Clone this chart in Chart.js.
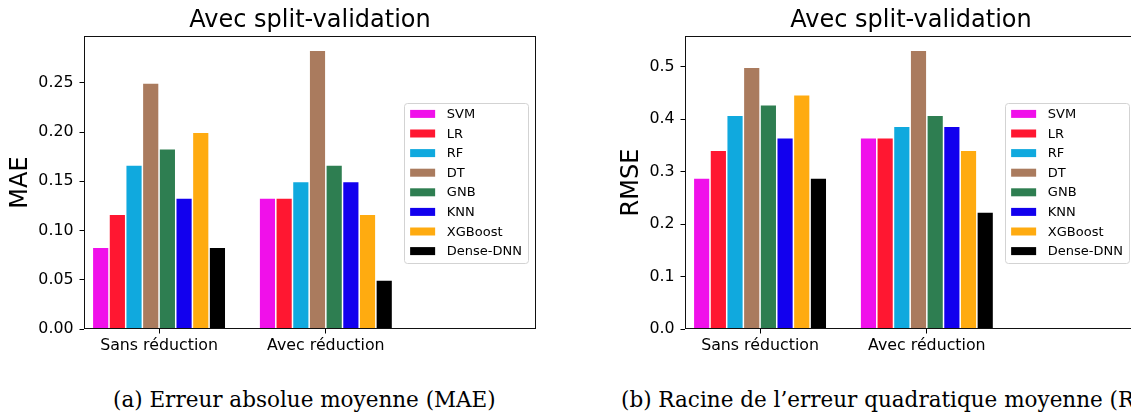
<!DOCTYPE html>
<html>
<head>
<meta charset="utf-8">
<script src="https://cdn.jsdelivr.net/npm/chart.js@4.4.1/dist/chart.umd.min.js"></script>
<style>
  html, body { margin: 0; padding: 0; background: #fff; overflow: hidden; width: 1131px; height: 414px; }
  .panel { position: absolute; top: 0; }
  #p1 { left: 0; }
  #p2 { left: 570px; }
  .cap { position: absolute; top: 389px; font-family: "DejaVu Serif", serif; font-size: 21.5px;
         line-height: 1; white-space: nowrap; color: #000; }
</style>
</head>
<body>
<div class="panel" id="p1"><canvas id="c1" width="560" height="359"></canvas></div>
<div class="panel" id="p2"><canvas id="c2" width="580" height="359"></canvas></div>
<div class="cap" style="left:113px">(a) Erreur absolue moyenne (MAE)</div>
<div class="cap" style="left:621px">(b) Racine de l’erreur quadratique moyenne (RMSE)</div>

<script>
// Groups on the x axis
const categories = ['Sans réduction', 'Avec réduction'];
// Models compared (one bar per model inside each group)
const models = ['SVM', 'LR', 'RF', 'DT', 'GNB', 'KNN', 'XGBoost', 'Dense-DNN'];
const colors = ['#F010EA', '#FF1731', '#10A9DE', '#AA7B5E', '#2E7E51', '#1200EE', '#FFAB10', '#000000'];

// Mean absolute error
const maeSans = [0.0833, 0.1167, 0.1667, 0.2500, 0.1833, 0.1333, 0.2000, 0.0833];
const maeAvec = [0.1333, 0.1333, 0.1500, 0.2833, 0.1667, 0.1500, 0.1167, 0.0500];
// Root mean squared error
const rmseSans = [0.2887, 0.3416, 0.4082, 0.5000, 0.4282, 0.3651, 0.4472, 0.2887];
const rmseAvec = [0.3651, 0.3651, 0.3873, 0.5323, 0.4082, 0.3873, 0.3416, 0.2236];

// Tick values of the y axes
const maeTicks = [0, 0.05, 0.10, 0.15, 0.20, 0.25];
const rmseTicks = [0, 0.1, 0.2, 0.3, 0.4, 0.5];

// Visible x range, in group units
const xMin = -0.45, xMax = 2.26;

const chartTitle = 'Avec split-validation';
const FONT = '"DejaVu Sans", sans-serif';

Chart.defaults.font.family = FONT;
Chart.defaults.color = '#000';

function buildDatasets(sans, avec) {
  return models.map((m, i) => ({
    label: m,
    data: [{ x: 0, y: sans[i] }, { x: 1, y: avec[i] }],
    backgroundColor: colors[i],
    borderColor: '#ffffff',
    borderWidth: { top: 1, left: 0.75, right: 0.75, bottom: 0 }
  }));
}

// Axes frame + boxed legend on the right side of the plot area
const framePlugin = {
  id: 'frameAndLegend',
  afterDatasetsDraw(chart) {
    const { ctx, chartArea: a } = chart;
    ctx.save();
    // frame
    ctx.strokeStyle = '#111';
    ctx.lineWidth = 1;
    const l = Math.round(a.left) + 0.5, t = Math.round(a.top) + 0.5;
    const r = Math.round(a.right) - 0.5, b = Math.round(a.bottom) - 0.5;
    ctx.strokeRect(l, t, r - l, b - t);

    // legend
    const ds = chart.data.datasets;
    ctx.font = '13px ' + FONT;
    const tw = Math.max(...ds.map(d => ctx.measureText(d.label).width));
    const padL = 6.3, handle = 25, gap = 11.7, padR = 6;
    const w = padL + handle + gap + tw + padR, h = 160;
    const x = a.right - 8 - w, y = (a.top + a.bottom) / 2 - h / 2;
    ctx.beginPath();
    ctx.roundRect(Math.round(x) + 0.5, Math.round(y) + 0.5, Math.round(w), Math.round(h), 3);
    ctx.fillStyle = 'rgba(255,255,255,0.8)';
    ctx.fill();
    ctx.strokeStyle = '#d3d3d3';
    ctx.stroke();
    const rowH = 19.6;
    const first = y + (h - rowH * (ds.length - 1)) / 2;
    ctx.textBaseline = 'middle';
    ctx.textAlign = 'left';
    ds.forEach((d, i) => {
      const cy = first + i * rowH;
      ctx.fillStyle = d.backgroundColor;
      ctx.fillRect(x + padL, cy - 4, handle, 8);
      ctx.fillStyle = '#000';
      ctx.fillText(d.label, x + padL + handle + gap, cy + 0.8);
    });
    ctx.restore();
  }
};

function makeChart(id, sans, avec, ticks, decimals, yTitle, leftPad, yWidth, rightPad) {
  const yMax = Math.max(...sans, ...avec) * 1.05;
  return new Chart(document.getElementById(id), {
    type: 'bar',
    data: { datasets: buildDatasets(sans, avec) },
    options: {
      responsive: false,
      animation: false,
      events: [],
      layout: { padding: { left: leftPad, right: rightPad, top: 0, bottom: 0 } },
      datasets: { bar: { categoryPercentage: 0.8, barPercentage: 1.0, grouped: true } },
      plugins: {
        legend: { display: false },
        tooltip: { enabled: false },
        title: {
          display: true, text: chartTitle, color: '#000', fullSize: false,
          font: { family: FONT, size: 24, weight: 'normal' },
          padding: { top: 6.7, bottom: 0.5 }
        }
      },
      scales: {
        x: {
          type: 'linear', min: xMin, max: xMax, offset: false, bounds: 'data', grace: 0,
          afterDataLimits: s => { s.min = xMin; s.max = xMax; },
          afterBuildTicks: s => { s.ticks = categories.map((_, i) => ({ value: i })); },
          afterFit: s => { s.height = 30; },
          ticks: {
            autoSkip: false, maxRotation: 0, padding: 3, color: '#000',
            font: { family: FONT, size: 15.8 },
            callback: v => categories[v] ?? ''
          },
          grid: { display: true, offset: false, drawOnChartArea: false, drawTicks: true, tickLength: 4.5, color: '#000', lineWidth: 1 },
          border: { display: false }
        },
        y: {
          type: 'linear', min: 0, max: yMax,
          afterBuildTicks: s => { s.ticks = ticks.map(v => ({ value: v })); },
          afterFit: s => { s.width = yWidth; },
          ticks: {
            padding: 6, color: '#000',
            font: { family: FONT, size: 15.8 },
            callback: v => Number(v).toFixed(decimals)
          },
          grid: { display: true, drawOnChartArea: false, drawTicks: true, tickLength: 4.5, color: '#000', lineWidth: 1 },
          border: { display: false },
          title: {
            display: true, text: yTitle, color: '#000',
            font: { family: FONT, size: 24 },
            padding: { top: 6.4, bottom: 0 }
          }
        }
      }
    },
    plugins: [framePlugin]
  });
}

makeChart('c1', maeSans, maeAvec, maeTicks, 2, 'MAE', 0, 84, 24);
makeChart('c2', rmseSans, rmseAvec, rmseTicks, 1, 'RMSE', 40.8, 74.2, 13);
</script>
</body>
</html>
